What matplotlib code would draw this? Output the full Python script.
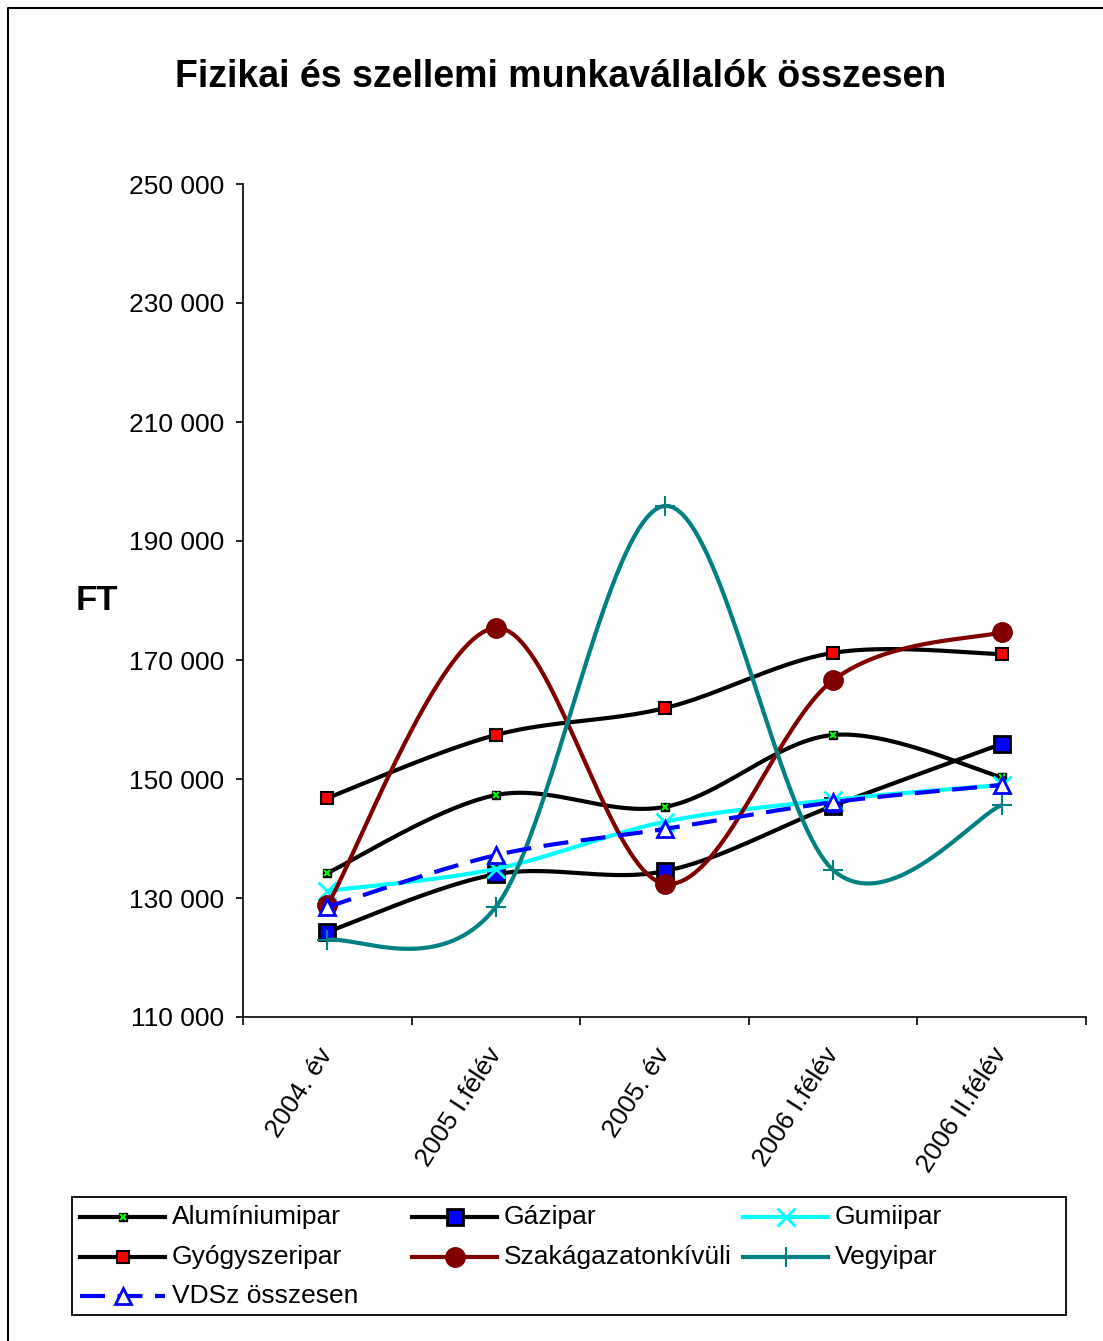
import numpy as np
import matplotlib
matplotlib.use("Agg")
import matplotlib.pyplot as plt
from matplotlib.lines import Line2D
from matplotlib.patches import Rectangle
from matplotlib.ticker import FuncFormatter, FixedLocator

plt.rcParams['font.family'] = ['Liberation Sans', 'DejaVu Sans']

# ---- data ----
categories = ["2004. év", "2005 I.félév", "2005. év", "2006 I.félév", "2006 II.félév"]
aluminiumipar = [134200, 147300, 145300, 157400, 150300]
gazipar = [124300, 134000, 134500, 145500, 155900]
gumiipar = [131200, 134900, 142800, 146500, 149000]
gyogyszeripar = [146800, 157400, 161900, 171200, 171000]
szakagazaton = [128800, 175400, 132400, 166600, 174700]
vegyipar = [122900, 128500, 195900, 134700, 145600]
vdsz = [128500, 137200, 141600, 146100, 149000]
series_names = ["Alumíniumipar", "Gázipar", "Gumiipar", "Gyógyszeripar",
                "Szakágazatonkívüli", "Vegyipar", "VDSz összesen"]
y_ticks = [110000, 130000, 150000, 170000, 190000, 210000, 230000, 250000]

W, H = 1103, 1341
fig = plt.figure(figsize=(W / 100, H / 100), dpi=100)

def fx(px):
    return px / W

def fy(py):
    return 1 - py / H

ax = fig.add_axes([fx(243), fy(1017), fx(1086) - fx(243), fy(184) - fy(1017)])


def smooth(xs, ys, n=40):
    xs = np.asarray(xs, float)
    ys = np.asarray(ys, float)
    P = np.column_stack([xs, ys])
    Pe = np.vstack([P[0], P, P[-1]])
    out = []
    t = np.linspace(0, 1, n)[:, None]
    for i in range(len(P) - 1):
        p0, p1, p2, p3 = Pe[i], Pe[i + 1], Pe[i + 2], Pe[i + 3]
        c1 = p1 + (p2 - p0) / 6.0
        c2 = p2 - (p3 - p1) / 6.0
        b = ((1 - t) ** 3) * p1 + 3 * ((1 - t) ** 2) * t * c1 + 3 * (1 - t) * t ** 2 * c2 + t ** 3 * p2
        out.append(b if i == 0 else b[1:])
    out = np.vstack(out)
    return out[:, 0], out[:, 1]

x = np.arange(len(categories))
LW = 3

styles = {
    "Alumíniumipar": dict(color="black", ls="-"),
    "Gázipar": dict(color="black", ls="-"),
    "Gumiipar": dict(color="#00FFFF", ls="-"),
    "Gyógyszeripar": dict(color="black", ls="-"),
    "Szakágazatonkívüli": dict(color="#800000", ls="-"),
    "Vegyipar": dict(color="#008080", ls="-"),
    "VDSz összesen": dict(color="#0000FF", ls=(0, (6, 3))),
}
markers = {
    "Alumíniumipar": [dict(marker="s", ms=6, mfc="black", mec="black", mew=1),
                      dict(marker="x", ms=5, mec="#00FF00", mew=1.5)],
    "Gázipar": [dict(marker="s", ms=12, mfc="#0000FF", mec="black", mew=2)],
    "Gumiipar": [dict(marker="x", ms=13, mec="#00FFFF", mew=2)],
    "Gyógyszeripar": [dict(marker="s", ms=9, mfc="#FF0000", mec="black", mew=1.5)],
    "Szakágazatonkívüli": [dict(marker="o", ms=14, mfc="#800000", mec="#800000", mew=1)],
    "Vegyipar": [dict(marker="+", ms=14, mec="#008080", mew=1.5)],
    "VDSz összesen": [dict(marker="^", ms=12, mfc="white", mec="#0000FF", mew=2)],
}
data = [aluminiumipar, gazipar, gumiipar, gyogyszeripar, szakagazaton, vegyipar, vdsz]

for z, (name, vals) in enumerate(zip(series_names, data)):
    sx, sy = smooth(x, vals)
    st = styles[name]
    ax.plot(sx, sy, color=st["color"], ls=st["ls"], lw=LW, zorder=3 + z,
            solid_capstyle="butt", dash_capstyle="butt")
    for m in markers[name]:
        ax.plot(x, vals, ls="none", zorder=3 + z, **m)

ax.set_xlim(-0.5, len(categories) - 0.5)
ax.set_ylim(110000, 250000)
ax.spines["top"].set_visible(False)
ax.spines["right"].set_visible(False)
for s in ("left", "bottom"):
    ax.spines[s].set_linewidth(1.2)
    ax.spines[s].set_color("black")

ax.yaxis.set_major_locator(FixedLocator(y_ticks))
ax.yaxis.set_major_formatter(FuncFormatter(lambda v, p: f"{int(v):,}".replace(",", " ")))
ax.tick_params(axis="y", direction="out", length=5, width=1.2, labelsize=19, pad=8.5)

ax.xaxis.set_major_locator(FixedLocator(np.arange(-0.5, len(categories), 1.0)))
ax.xaxis.set_major_formatter(FuncFormatter(lambda v, p: ""))
ax.xaxis.set_minor_locator(FixedLocator(x))
ax.set_xticklabels(categories, minor=True)
ax.tick_params(axis="x", which="major", direction="out", length=6, width=1.2)
ax.tick_params(axis="x", which="minor", length=0, labelsize=19, pad=24)
for lab in ax.get_xticklabels(minor=True):
    lab.set_rotation(57)
    lab.set_rotation_mode("anchor")
    lab.set_ha("right")
    lab.set_va("center")

fig.text(fx(561), fy(77), "Fizikai és szellemi munkavállalók összesen",
         ha="center", va="center", fontsize=27, fontweight="bold")
fig.text(fx(97), fy(600), "FT", ha="center", va="center", fontsize=25, fontweight="bold")

# outer border
fig.add_artist(Line2D([fx(8), fx(8), fx(1103)], [fy(1341), fy(8), fy(8)],
                      transform=fig.transFigure, color="black", lw=1.5))

# legend (manual layout, matching Excel's grid)
fig.add_artist(Rectangle((fx(72), fy(1315)), fx(1066) - fx(72), fy(1197) - fy(1315),
                         transform=fig.transFigure, fill=False, ec="black", lw=1.3))
col_x = [80, 412, 743]
row_y = [1217, 1257, 1296]
order = ["Alumíniumipar", "Gázipar", "Gumiipar", "Gyógyszeripar",
         "Szakágazatonkívüli", "Vegyipar", "VDSz összesen"]
for i, name in enumerate(order):
    c, r = i % 3, i // 3
    x0, yy = col_x[c], row_y[r]
    st = styles[name]
    fig.add_artist(Line2D([fx(x0), fx(x0 + 85)], [fy(yy), fy(yy)], transform=fig.transFigure,
                          color=st["color"], ls=st["ls"], lw=LW))
    for m in markers[name]:
        fig.add_artist(Line2D([fx(x0 + 42.5)], [fy(yy)], transform=fig.transFigure,
                              ls="none", **m))
    fig.text(fx(x0 + 92), fy(yy), name, ha="left", va="center", fontsize=19)

fig.savefig("out.png", dpi=100)
